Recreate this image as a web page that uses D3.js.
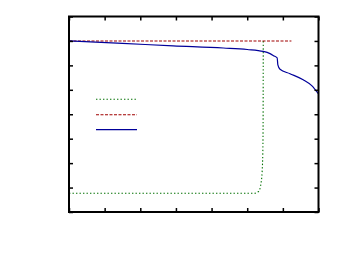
<!DOCTYPE html>
<html>
<head>
<meta charset="utf-8">
<script src="https://cdn.jsdelivr.net/npm/d3@7"></script>
<style>
  body { margin: 0; background: #fff; }
</style>
</head>
<body>
<svg width="346" height="261"></svg>
<script>
// axis ticks (no labels shown in the picture)
var xTicks = [0, 1, 2, 3, 4, 5, 6, 7]
var yTicks = [0, 1, 2, 3, 4, 5, 6, 7, 8]

// series
var flatSeries = [[0, 7.0], [6.24, 7.0]]
var stepSeries = [[0, 0.77], [5.2, 0.77], [5.32, 0.84], [5.39, 1.2], [5.43, 2.0],
    [5.445, 3.4], [5.45, 7.0]]
var decaySeries = [[0, 7.0], [1.5, 6.9], [2.92, 6.8], [4.33, 6.71], [5.0, 6.65], [5.45, 6.57],
    [5.64, 6.48], [5.76, 6.38], [5.84, 6.31], [5.86, 6.02], [5.92, 5.84], [6.2, 5.66],
    [6.57, 5.41], [6.81, 5.17], [7.0, 4.83]]

var series = [
    { data: stepSeries, color: '#007000', dash: '1.4,2.1', width: 1.1 },
    { data: flatSeries, color: '#a00000', dash: '3,1.5', width: 1.1 },
    { data: decaySeries, color: '#00009a', dash: null, width: 1.2 }
]

var margin = { left: 69, top: 16.5, right: 346 - 318.5, bottom: 261 - 212 }
var width = 346 - margin.left - margin.right
var height = 261 - margin.top - margin.bottom

var svg = d3.select('svg')
var g = svg.append('g').attr('transform', 'translate(' + margin.left + ',' + margin.top + ')')

var x = d3.scaleLinear().domain([0, 7]).range([0, width])
var y = d3.scaleLinear().domain([0, 8]).range([height, 0])

var line = d3.line()
    .curve(d3.curveMonotoneX)
    .x(function (d) { return x(d[0]) })
    .y(function (d) { return y(d[1]) })

series.forEach(function (s) {
    g.append('path')
        .datum(s.data)
        .attr('fill', 'none')
        .attr('stroke', s.color)
        .attr('stroke-width', s.width)
        .attr('stroke-dasharray', s.dash)
        .attr('d', line)
})

// legend samples (no text visible)
var legendY = [99.3, 114.7, 129.7]
series.forEach(function (s, i) {
    svg.append('line')
        .attr('x1', 96).attr('x2', 137)
        .attr('y1', legendY[i]).attr('y2', legendY[i])
        .attr('stroke', s.color)
        .attr('stroke-width', s.width)
        .attr('stroke-dasharray', s.dash)
})

// ticks on all four sides, pointing inward
var tickLen = 4
function drawAxis(axis, transform) {
    var a = g.append('g').attr('transform', transform).call(axis)
    a.select('.domain').remove()
    a.selectAll('text').remove()
    a.selectAll('line').attr('stroke', '#000').attr('stroke-width', 1.5)
}
drawAxis(d3.axisBottom(x).tickValues(xTicks).tickSize(-tickLen), 'translate(0,' + height + ')')
drawAxis(d3.axisTop(x).tickValues(xTicks).tickSize(-tickLen), 'translate(0,0)')
drawAxis(d3.axisLeft(y).tickValues(yTicks).tickSize(-tickLen), 'translate(0,0)')
drawAxis(d3.axisRight(y).tickValues(yTicks).tickSize(-tickLen), 'translate(' + width + ',0)')

// frame
g.append('rect')
    .attr('width', width).attr('height', height)
    .attr('fill', 'none')
    .attr('stroke', '#000')
    .attr('stroke-width', 2)
</script>
</body>
</html>
